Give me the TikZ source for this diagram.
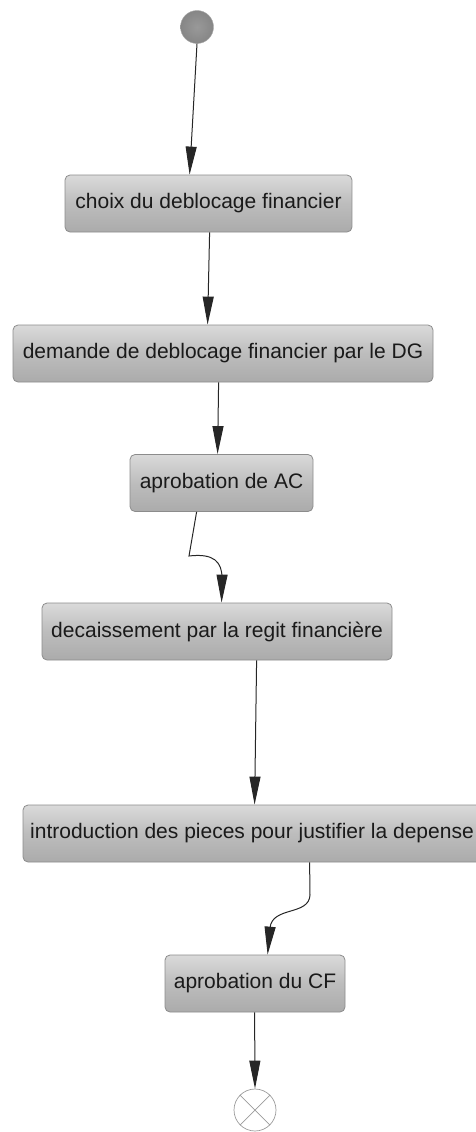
\documentclass[tikz,border=0pt]{standalone}
\usepackage{fontspec}
\setmainfont{Liberation Sans}
\usetikzlibrary{arrows.meta,shadings}

\definecolor{boxtop}{HTML}{DADADA}
\definecolor{boxbot}{HTML}{ABABAB}
\definecolor{boxline}{HTML}{8C8C8C}
\definecolor{txt}{HTML}{1A1A1A}
\definecolor{endline}{HTML}{9A9A9A}

\tikzset{
  x=1pt, y=1pt,
  activity/.style={draw=boxline, line width=0.8pt, rounded corners=5pt,
    top color=boxtop, bottom color=boxbot, middle color=gray!52,
    minimum height=57pt, inner sep=0pt, text=txt,
    font=\fontsize{21pt}{24pt}\selectfont},
  flow/.style={draw=black!85, line width=1pt,
    -{Triangle[length=28pt,width=11pt]}},
}

\begin{document}
\begin{tikzpicture}
  \useasboundingbox (0,0) rectangle (475,-1132);

  % initial state
  \node (start) [circle, minimum size=33pt, inner sep=0pt, draw=gray!70,
    inner color=gray!80, outer color=gray!105!black] at (197,-27) {};

  % activities
  \node (n1) [activity, minimum width=287pt] at (208.5,-203.5) {choix du deblocage financier};
  \node (n2) [activity, minimum width=420pt] at (223,-353.5) {demande de deblocage financier par le DG};
  \node (n3) [activity, minimum width=183pt] at (221.5,-483) {aprobation de AC};
  \node (n4) [activity, minimum width=350pt] at (217,-631.5) {decaissement par la regit financière};
  \node (n5) [activity, minimum width=458pt] at (252,-833.5) {introduction des pieces pour justifier la depense};
  \node (n6) [activity, minimum width=180pt] at (255,-983.5) {aprobation du CF};

  % final state
  \node (stop) [circle, minimum size=42pt, inner sep=0pt, draw=endline, line width=0.7pt] at (255,-1110) {};
  \draw[endline, line width=0.7pt] (stop.north west) -- (stop.south east)
                                   (stop.north east) -- (stop.south west);

  % bend points of the curved flows
  \coordinate (b1) at (189,-556);
  \coordinate (b2) at (222,-578);
  \coordinate (c1) at (310,-895);
  \coordinate (c2) at (270,-928);

  % control flows
  \draw[flow] (start.south) -- ([xshift=125pt]n1.north west);
  \draw[flow] ([xshift=145pt]n1.south west) -- ([xshift=195pt]n2.north west);
  \draw[flow] ([xshift=206pt]n2.south west) -- ([xshift=88pt]n3.north west);
  \draw[flow] ([xshift=67pt]n3.south west) -- (b1)
      .. controls (214,-553) and (222,-562) .. (b2) -- ([xshift=180pt]n4.north west);
  \draw[flow] ([xshift=215pt]n4.south west) -- ([xshift=232pt]n5.north west);
  \draw[flow] ([xshift=287pt]n5.south west) -- (c1)
      .. controls (309,-916) and (272,-906) .. (c2) -- ([xshift=103pt]n6.north west);
  \draw[flow] ([xshift=90pt]n6.south west) -- (stop.north);
\end{tikzpicture}
\end{document}
